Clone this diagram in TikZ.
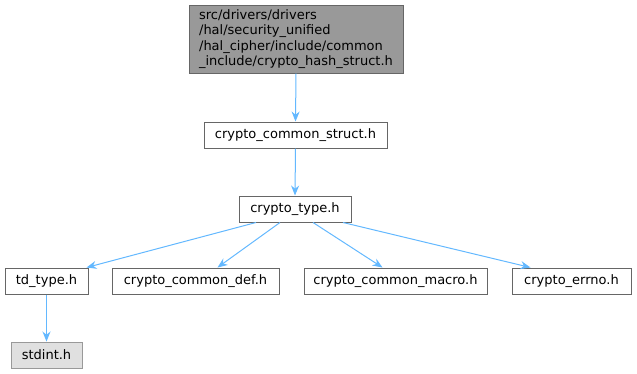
\documentclass[tikz,border=0pt]{standalone}
\usepackage{fontspec}
\setmainfont{DejaVu Sans}
\usetikzlibrary{arrows.meta}
\definecolor{edgec}{HTML}{63B8FF}
\definecolor{bordc}{HTML}{666666}
\definecolor{topfill}{HTML}{999999}
\definecolor{grayfill}{HTML}{E0E0E0}
\definecolor{grayb}{HTML}{999999}
\begin{document}
\begin{tikzpicture}[x=1pt,y=-1pt,
  box/.style={draw=bordc,fill=white,line width=1pt,minimum height=26pt,inner sep=0pt,font=\fontsize{13}{15.5}\selectfont},
  rootbox/.style={box,fill=topfill,align=left,minimum height=68pt,minimum width=214pt},
  extbox/.style={box,draw=grayb,fill=grayfill},
  edge/.style={draw=edgec,line width=1pt,-{Stealth[length=10pt,width=8pt]}}]
\useasboundingbox (0,0) rectangle (637,373);
\node[rootbox] (root) at (296,39) {src/drivers/drivers\\/hal/security\_unified\\/hal\_cipher/include/common\\\_include/crypto\_hash\_struct.h};
\node[box,minimum width=183pt] (ccs) at (295.5,135) {crypto\_common\_struct.h};
\node[box,minimum width=112pt] (ct) at (295,209) {crypto\_type.h};
\node[box,minimum width=83pt] (td) at (46.5,281) {td\_type.h};
\node[box,minimum width=167pt] (def) at (195.5,281) {crypto\_common\_def.h};
\node[box,minimum width=183pt] (mac) at (395.5,281) {crypto\_common\_macro.h};
\node[box,minimum width=119pt] (err) at (571.5,281) {crypto\_errno.h};
\node[extbox,minimum width=71pt] (std) at (46.5,355) {stdint.h};
\draw[edge] (root.south) -- (ccs.north);
\draw[edge] (ccs.south) -- (ct.north);
\draw[edge] ([xshift=-39pt]ct.south) -- ([xshift=-2pt]td.north east);
\draw[edge] ([xshift=-15pt]ct.south) -- ([xshift=22pt]def.north);
\draw[edge] ([xshift=18pt]ct.south) -- ([xshift=-13pt]mac.north);
\draw[edge] ([xshift=48pt]ct.south) -- ([xshift=19pt]err.north west);
\draw[edge] (td.south) -- (std.north);
\end{tikzpicture}
\end{document}
